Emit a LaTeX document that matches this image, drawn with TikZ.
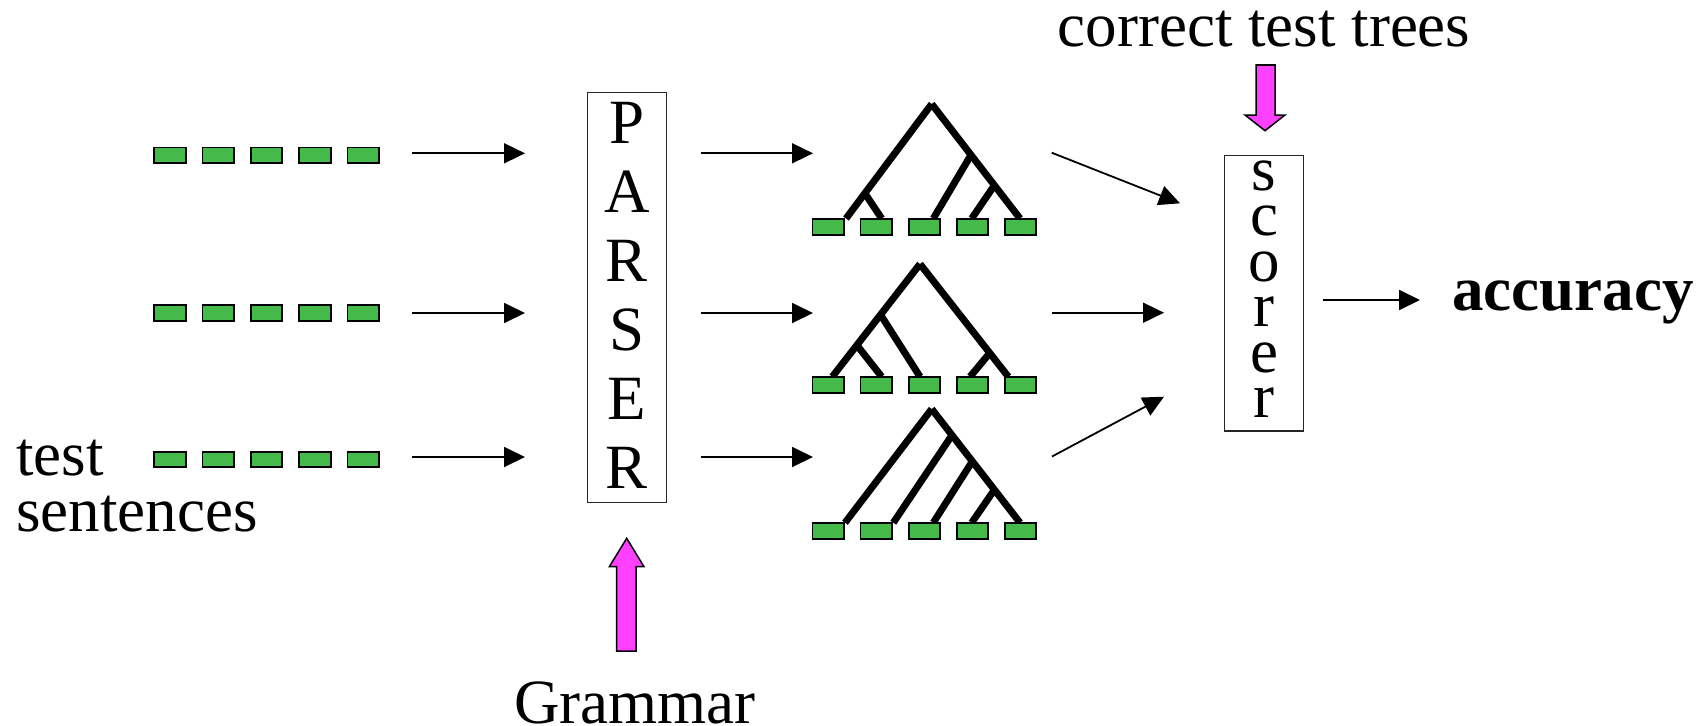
\documentclass[tikz,border=0pt]{standalone}
\usepackage{fontspec}
\setmainfont{Liberation Serif}
\usetikzlibrary{arrows.meta,calc}
\definecolor{leafgreen}{RGB}{70,185,75}
\definecolor{feedpink}{RGB}{255,64,255}

\begin{document}
\begin{tikzpicture}[x=1pt,y=-1pt,
  word/.style={draw=black, fill=leafgreen, line width=1.8pt, minimum width=31.5pt, minimum height=15.5pt, inner sep=0pt},
  flow/.style={line width=1.8pt, -{Triangle[length=21pt,width=20pt]}},
  branch/.style={line width=7pt, line cap=butt},
  panel/.style={draw=black!85, line width=1.3pt, inner sep=0pt},
  big/.style={font=\fontsize{63}{69}\selectfont, inner sep=0pt},
  feed/.style={draw=black, fill=feedpink, line width=1.5pt, line join=miter}
]
\useasboundingbox (0,0) rectangle (1704,725);

% input sentences: rows of word boxes
\foreach \r/\yy in {1/155.3, 2/313, 3/459.6}
  \foreach \i in {1,...,5}
    \node[word] (s\r-\i) at ({170+48.3*(\i-1)}, \yy) {};

% labels
\node[big, anchor=base west] (test) at (16,475) {test};
\node[big, anchor=base west] (sentences) at (16,531.7) {sentences};
\node[big, anchor=base] (gold) at (1264,47) {correct test trees};
\node[big, anchor=base] (grammar) at (635,723) {Grammar};
\node[big, anchor=base west, font=\fontsize{63}{69}\selectfont\bfseries] (acc) at (1452,310) {accuracy};

% parser box
\node[panel, minimum width=79.3pt, minimum height=410.3pt] (parser) at (627,297.5) {};
\foreach \letter/\yy [count=\k] in {P/143, A/212, R/281.5, S/350.5, E/419.5, R/488.5}
  \node[big, anchor=base] (p\k) at (627,\yy) {\letter};

% scorer box
\node[panel, minimum width=79pt, minimum height=275.4pt] (scorer) at (1264.2,293.4) {};
\foreach \letter/\yy [count=\k] in {s/190, c/235.5, o/281, r/326.5, e/372, r/417.5}
  \node[big, anchor=base] (c\k) at (1264,\yy) {\letter};

% parse trees (branches first, leaves drawn on top)
% tree 1
\coordinate (t1root) at (931.7,104);
\coordinate (t1l) at (846,218.5);
\coordinate (t1r) at (1020,218.5);
\draw[branch] (t1root) -- (t1l);
\draw[branch] (t1root) -- (t1r);
\draw[branch] ($(t1root)!0.78!(t1l)$) -- (881.7,218.5);
\draw[branch] ($(t1root)!0.445!(t1r)$) -- (933.3,218.5);
\draw[branch] ($(t1root)!0.71!(t1r)$) -- (971.7,218.5);
% tree 2
\coordinate (t2root) at (920,264);
\coordinate (t2l) at (832.3,376.7);
\coordinate (t2r) at (1008.3,376.7);
\draw[branch] (t2root) -- (t2l);
\draw[branch] (t2root) -- (t2r);
\draw[branch] ($(t2root)!0.45!(t2l)$) -- (920,376.7);
\draw[branch] ($(t2root)!0.72!(t2l)$) -- (881.7,376.7);
\draw[branch] ($(t2root)!0.79!(t2r)$) -- (970,376.7);
% tree 3
\coordinate (t3root) at (931.7,409);
\coordinate (t3l) at (845,522.7);
\coordinate (t3r) at (1020,522.7);
\draw[branch] (t3root) -- (t3l);
\draw[branch] (t3root) -- (t3r);
\draw[branch] ($(t3root)!0.23!(t3r)$) -- (893.3,522.7);
\draw[branch] ($(t3root)!0.46!(t3r)$) -- (933.3,522.7);
\draw[branch] ($(t3root)!0.71!(t3r)$) -- (971.7,522.7);

\foreach \t/\yy in {1/227, 2/385, 3/531}
  \foreach \i in {1,...,5}
    \node[word] (l\t-\i) at ({828.2+48.1*(\i-1)}, \yy) {};

% arrows: sentences -> parser -> trees
\foreach \r/\yy in {1/153.3, 2/313, 3/457}{
  \coordinate (in\r) at (411.7,\yy);
  \coordinate (pin\r) at (525,\yy);
  \coordinate (pout\r) at (701,\yy);
  \coordinate (tin\r) at (813,\yy);
  \draw[flow] (in\r) -- (pin\r);
  \draw[flow] (pout\r) -- (tin\r);
}

% arrows: trees -> scorer -> accuracy
\coordinate (o1) at (1051.7,152.7);
\coordinate (o2) at (1051.7,312.7);
\coordinate (o3) at (1052,456.5);
\coordinate (sc1) at (1180,203.3);
\coordinate (sc2) at (1164,312.7);
\coordinate (sc3) at (1164,396.7);
\draw[flow] (o1) -- (sc1);
\draw[flow] (o2) -- (sc2);
\draw[flow] (o3) -- (sc3);
\coordinate (sout) at (1323,300);
\coordinate (accin) at (1420,300);
\draw[flow] (sout) -- (accin);

% block arrows: gold trees into scorer, grammar into parser
\draw[feed] (1256,65) -- (1275,65) -- (1275,115) -- (1285,115) -- (1265,130.7)
  -- (1245,115) -- (1256,115) -- cycle;
\draw[feed] (616.7,651) -- (636,651) -- (636,566.7) -- (644,566.7) -- (626.7,538.3)
  -- (609.3,566.7) -- (616.7,566.7) -- cycle;
\end{tikzpicture}
\end{document}
